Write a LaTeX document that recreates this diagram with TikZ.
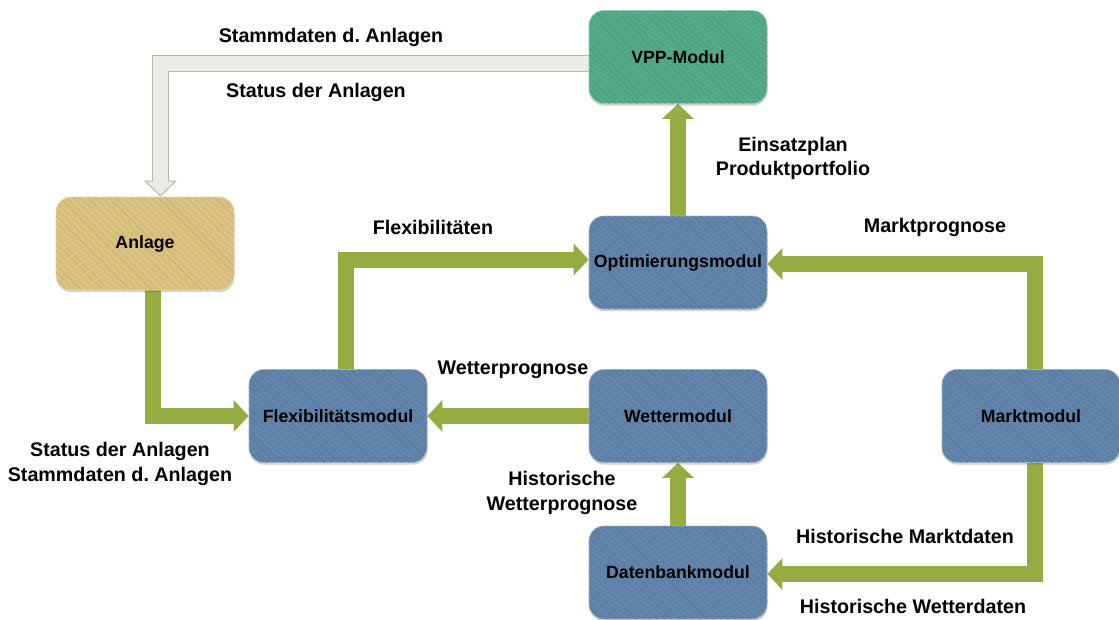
\documentclass[tikz,border=0pt]{standalone}
\usepackage{fontspec}
\setmainfont{Liberation Sans}
\usetikzlibrary{arrows.meta,shadows,patterns.meta,backgrounds}
\frenchspacing

\definecolor{modblue}{RGB}{98,131,169}
\definecolor{vppgreen}{RGB}{84,170,134}
\definecolor{plantsand}{RGB}{217,193,128}
\definecolor{flowgreen}{RGB}{148,172,66}
\definecolor{datagray}{RGB}{236,236,231}
\definecolor{datagrayline}{RGB}{186,186,162}

\tikzset{
  modbox/.style={rounded corners=15pt, minimum width=178pt, minimum height=93pt,
    inner sep=0pt, fill=#1, draw=#1!60!white, line width=0.8pt,
    font=\bfseries\fontsize{17.7}{21}\selectfont,
    drop shadow={shadow xshift=0.5pt, shadow yshift=-2.2pt, opacity=0.3, fill=black!60},
    postaction={pattern={Lines[angle=-45,distance=5pt,line width=0.6pt]},
                pattern color=#1!93!black}},
  lbl/.style={font=\bfseries\fontsize{19.7}{24.5}\selectfont, align=center, inner sep=0pt},
  flow/.style={line width=16pt, draw=flowgreen, line join=miter,
    -{Triangle[width=32pt,length=15pt,line width=0pt]}},
  infoout/.style={line width=17pt, draw=datagrayline, line join=miter,
    -{Triangle[width=33pt,length=16pt,line width=1pt,fill=datagray]}},
  infoin/.style={line width=15pt, draw=datagray, line join=miter, shorten >=15pt}
}

\begin{document}
\begin{tikzpicture}[x=1pt, y=-1pt]
\useasboundingbox (0,0) rectangle (1119,619);

% modules
\node[modbox=vppgreen]  (vpp)    at (678,57)    {VPP-Modul};
\node[modbox=plantsand] (anlage) at (145,243.5) {Anlage};
\node[modbox=modblue]   (opt)    at (678,262.5) {Optimierungsmodul};
\node[modbox=modblue]   (flex)   at (338,416)   {Flexibilitätsmodul};
\node[modbox=modblue]   (wetter) at (678,416)   {Wettermodul};
\node[modbox=modblue]   (markt)  at (1031,416)  {Marktmodul};
\node[modbox=modblue]   (daten)  at (678,572.5) {Datenbankmodul};

% data flows
\begin{scope}[on background layer]
  \draw[infoout] ([yshift=-6.5pt]vpp.west) -| ([xshift=15.5pt]anlage.north);
  \draw[infoin]  ([yshift=-6.5pt]vpp.west) -| ([xshift=15.5pt]anlage.north);
  \draw[flow] ([xshift=8pt]anlage.south) |- (flex.west);
  \draw[flow] ([xshift=8pt]flex.north) |- ([yshift=3pt]opt.west);
  \draw[flow] ([xshift=4pt]markt.north) |- ([yshift=-1.5pt]opt.east);
  \draw[flow] (opt.north) -- (opt.north |- vpp.south);
  \draw[flow] (wetter.west) -- (wetter.west -| flex.east);
  \draw[flow] (daten.north) -- (daten.north |- wetter.south);
  \draw[flow] ([xshift=4pt]markt.south) |- ([yshift=-1.5pt]daten.east);
\end{scope}

% flow labels
\node[lbl] (l1)  at (331,37)    {Stammdaten d. Anlagen};
\node[lbl] (l2)  at (316,92)    {Status der Anlagen};
\node[lbl] (l3)  at (793,158.5) {Einsatzplan\\Produktportfolio};
\node[lbl] (l4)  at (433,227)   {Flexibilitäten};
\node[lbl] (l5)  at (935,227)   {Marktprognose};
\node[lbl] (l6)  at (513,370)   {Wetterprognose};
\node[lbl] (l7)  at (562,493)   {Historische\\Wetterprognose};
\node[lbl] (l8)  at (905,536)   {Historische Marktdaten};
\node[lbl] (l9)  at (913,606)   {Historische Wetterdaten};
\node[lbl] (l10) at (120,464)   {Status der Anlagen\\Stammdaten d. Anlagen};
\end{tikzpicture}
\end{document}
